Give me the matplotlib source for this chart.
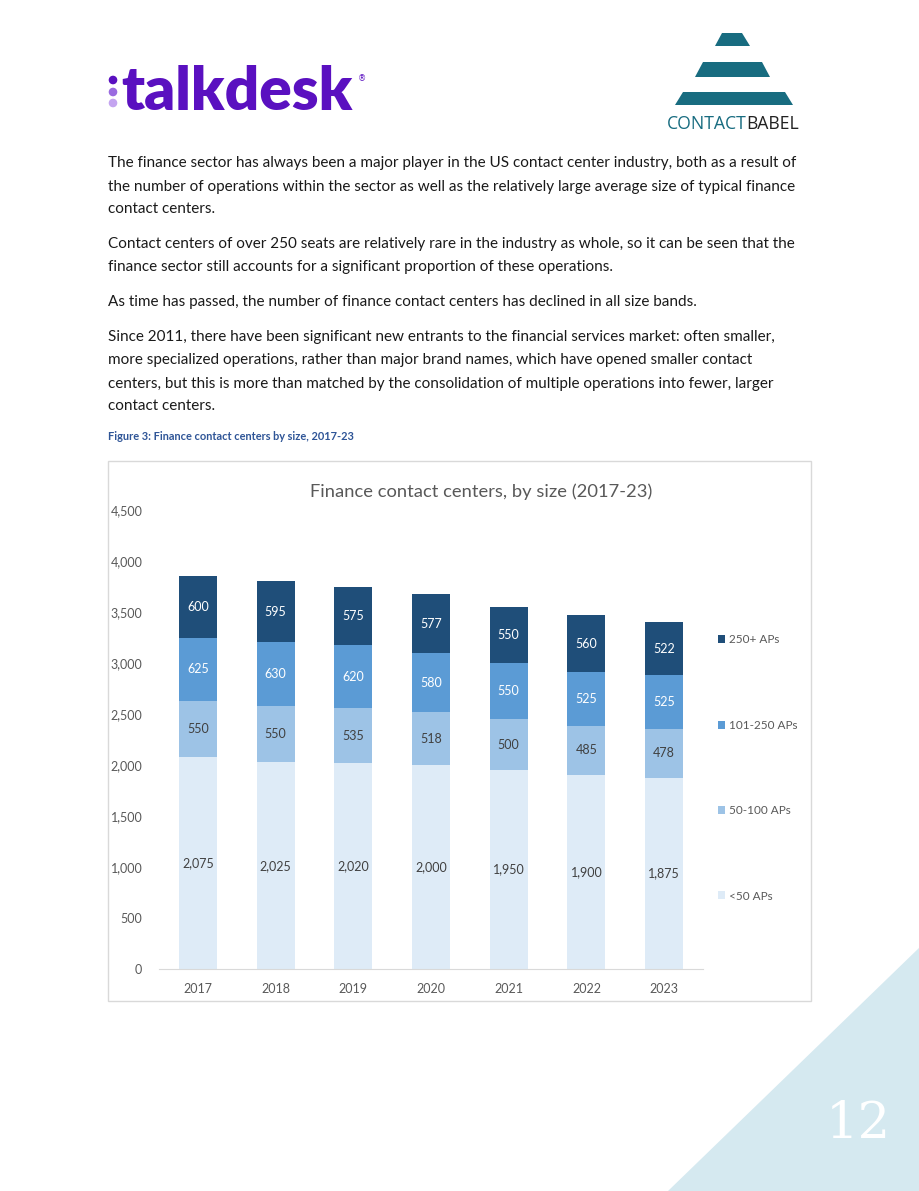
import matplotlib.pyplot as plt
from matplotlib.patches import Polygon, Circle, Rectangle

# Chart data
years = ['2017', '2018', '2019', '2020', '2021', '2022', '2023']
under50 = [2075, 2025, 2020, 2000, 1950, 1900, 1875]
aps50_100 = [550, 550, 535, 518, 500, 485, 478]
aps101_250 = [625, 630, 620, 580, 550, 525, 525]
aps250 = [600, 595, 575, 577, 550, 560, 522]
series_names = ['<50 APs', '50-100 APs', '101-250 APs', '250+ APs']
yticks = [0, 500, 1000, 1500, 2000, 2500, 3000, 3500, 4000, 4500]

# Page text
paragraphs = [
    (163, "The finance sector has always been a major player in the US contact center industry, both as a result of"),
    (187, "the number of operations within the sector as well as the relatively large average size of typical finance"),
    (209, "contact centers."),
    (244, "Contact centers of over 250 seats are relatively rare in the industry as whole, so it can be seen that the"),
    (267, "finance sector still accounts for a significant proportion of these operations."),
    (302, "As time has passed, the number of finance contact centers has declined in all size bands."),
    (337, "Since 2011, there have been significant new entrants to the financial services market: often smaller,"),
    (360, "more specialized operations, rather than major brand names, which have opened smaller contact"),
    (384, "centers, but this is more than matched by the consolidation of multiple operations into fewer, larger"),
    (406, "contact centers."),
]

W, H = 920, 1191
colors = ['#DEEBF7', '#9DC3E6', '#5B9BD5', '#1F4E79']
label_colors = ['#404040', '#404040', 'white', 'white']
font = 'Lato'

fig = plt.figure(figsize=(W / 100, H / 100), dpi=100)

# Background layer in pixel coordinates
bg = fig.add_axes([0, 0, 1, 1])
bg.set_xlim(0, W)
bg.set_ylim(H, 0)
bg.axis('off')

# talkdesk logo
for yy, c in zip([80, 92, 103], ['#5A10C0', '#9A6BE0', '#C4A4F0']):
    bg.add_patch(Circle((113, yy), 3.6, color=c))
bg.text(121, 110, 'talkdesk', fontsize=43.5, fontweight='heavy', family=font,
        color='#5A10C0', va='baseline', ha='left')
bg.text(362, 79, '®', fontsize=6, color='#5A10C0', ha='center', va='center')

# ContactBabel logo
teal = '#186C80'
trapezoids = [
    [(722, 33), (742, 33), (750, 46), (715, 46)],
    [(703, 62), (762, 62), (770, 77), (695, 77)],
    [(683, 92), (785, 92), (793, 105), (675, 105)],
]
for pts in trapezoids:
    bg.add_patch(Polygon(pts, closed=True, color=teal, lw=0))
t1 = bg.text(667, 124, 'CONTACT', fontsize=12.7, family='Open Sans', color=teal,
             va='center', ha='left')
fig.canvas.draw()
bb = t1.get_window_extent()
x_babel = bg.transData.inverted().transform((bb.x1, 0))[0]
bg.text(x_babel, 124, 'BABEL', fontsize=12.7, family='Open Sans', color='#222222',
        va='center', ha='left')

# Body text
for y, line in paragraphs:
    bg.text(108, y, line, fontsize=10.95, family=font, color='#1a1a1a',
            va='center', ha='left')

bg.text(108, 436, 'Figure 3: Finance contact centers by size, 2017-23', fontsize=7.9,
        fontweight='bold', family=font, color='#2F5597', va='center', ha='left')

# Chart frame
bg.add_patch(Rectangle((108, 461), 703, 540, fill=False, ec='#D9D9D9', lw=1))
bg.text(481, 492, 'Finance contact centers, by size (2017-23)', fontsize=13.2,
        family=font, color='#595959', ha='center', va='center')

# Page corner triangle and number
bg.add_patch(Polygon([(920, 947), (920, 1191), (668, 1191)], closed=True,
                     color='#D5E9F0', lw=0))
bg.text(858, 1124, '12', fontsize=37, family='DejaVu Serif', color='white',
        ha='center', va='center')

# Chart axes
ax = fig.add_axes([159 / W, (H - 969) / H, 544 / W, 459 / H])
ax.set_facecolor('none')
series = [under50, aps50_100, aps101_250, aps250]
x = list(range(len(years)))
bottom = [0] * len(years)
handles = []
for vals, name, c, lc in zip(series, series_names, colors, label_colors):
    bars = ax.bar(x, vals, 0.49, bottom=bottom, color=c, label=name)
    ax.bar_label(bars, labels=[f'{v:,}' for v in vals], label_type='center',
                 color=lc, fontsize=9, family=font)
    handles.append(bars)
    bottom = [b + v for b, v in zip(bottom, vals)]

ax.set_xlim(-0.5, len(years) - 0.5)
ax.set_ylim(0, 4500)
ax.set_yticks(yticks)
ax.set_yticklabels([f'{t:,}' for t in yticks])
ax.set_xticks(x)
ax.set_xticklabels(years)
for s in ['top', 'right', 'left']:
    ax.spines[s].set_visible(False)
ax.spines['bottom'].set_color('#D9D9D9')
ax.tick_params(axis='both', length=0, labelsize=9, labelcolor='#595959')
ax.tick_params(axis='y', pad=12)
ax.tick_params(axis='x', pad=10)
for lab in ax.get_xticklabels() + ax.get_yticklabels():
    lab.set_family(font)

leg = ax.legend(handles[::-1], series_names[::-1], loc='center left',
                bbox_to_anchor=(707 / W, 1 - 768 / H), bbox_transform=fig.transFigure,
                frameon=False, handlelength=0.65, handleheight=0.65,
                handletextpad=0.3, labelspacing=6.3, prop={'family': font, 'size': 8.5})
for t in leg.get_texts():
    t.set_color('#595959')

fig.savefig('out.png', dpi=100)
